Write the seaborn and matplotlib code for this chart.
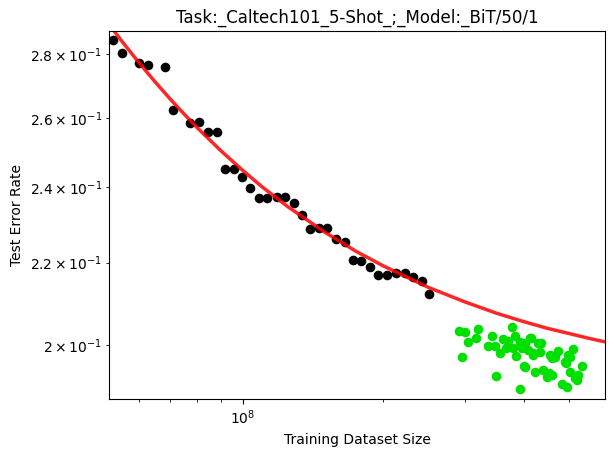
import numpy as np
import pandas as pd
import matplotlib
matplotlib.use("Agg")
import matplotlib.pyplot as plt
import seaborn as sns

# training set sizes are in units of 1e8
seen_size = [0.5273, 0.5523, 0.5996, 0.6278, 0.6829, 0.7103, 0.7712, 0.8074, 0.8416,
             0.8797, 0.9165, 0.9565, 0.998, 1.0382, 1.0852, 1.1289, 1.1824, 1.2320,
             1.2859, 1.3377, 1.3937, 1.4548, 1.5181, 1.5841, 1.6535, 1.7249, 1.7916,
             1.8730, 1.9514, 2.0397, 2.1294, 2.2233, 2.3196, 2.4179, 2.5057]
seen_err = [0.2846, 0.2805, 0.2773, 0.2764, 0.2760, 0.2624, 0.2587, 0.2588, 0.2559,
            0.2558, 0.2453, 0.2453, 0.2430, 0.2399, 0.2371, 0.2371, 0.2374, 0.2374,
            0.2357, 0.2324, 0.2288, 0.2290, 0.2290, 0.2261, 0.2252, 0.2207, 0.2205,
            0.2188, 0.2170, 0.2170, 0.2173, 0.2173, 0.2163, 0.2154, 0.2121]

held_size = [2.906, 2.992, 3.191, 3.037, 3.159, 2.949, 3.419, 3.352, 3.470, 3.556,
             3.487, 3.609, 3.699, 3.773, 3.829, 3.791, 3.663, 3.847, 3.924, 3.924,
             4.003, 3.963, 4.123, 4.289, 4.022, 4.082, 4.184, 4.331, 4.022, 4.226,
             4.395, 4.483, 4.595, 4.528, 4.663, 4.733, 4.595, 4.899, 5.097, 4.973,
             5.022, 5.224, 5.328, 4.827, 4.948, 5.198, 4.550, 5.022, 4.924, 4.352,
             4.143, 4.184, 5.147]
held_err = [0.2033, 0.2030, 0.2037, 0.2007, 0.2016, 0.1972, 0.2021, 0.1998, 0.1998, 0.1982,
            0.1930, 0.2014, 0.2009, 0.2042, 0.2021, 0.1993, 0.1993, 0.1975, 0.2007, 0.1901,
            0.1952, 0.1993, 0.2016, 0.2005, 0.2005, 0.1988, 0.1977, 0.1984, 0.1950, 0.1939,
            0.1943, 0.1927, 0.1932, 0.1936, 0.1972, 0.1986, 0.1970, 0.1961, 0.1991, 0.1977,
            0.1939, 0.1932, 0.1952, 0.1912, 0.1905, 0.1921, 0.1977, 0.1972, 0.1959, 0.2005,
            0.2016, 0.1982, 0.1925]

# fitted curve
fit_size = [0.518, 0.55, 0.6, 0.65, 0.7, 0.75, 0.8, 0.9, 1.0, 1.1, 1.25, 1.5, 1.75,
            2.0, 2.5, 3.0, 3.5, 4.0, 4.5, 5.0, 5.5, 6.0]
fit_err = [0.2897, 0.2844, 0.2772, 0.2711, 0.2658, 0.2612, 0.2571, 0.2503, 0.2448,
           0.2402, 0.2347, 0.2279, 0.2229, 0.2192, 0.2138, 0.2102, 0.2075, 0.2055,
           0.2039, 0.2027, 0.2016, 0.2007]

seen = pd.DataFrame({"size": np.array(seen_size) * 1e8, "err": seen_err})
held = pd.DataFrame({"size": np.array(held_size) * 1e8, "err": held_err})
fit = pd.DataFrame({"size": np.array(fit_size) * 1e8, "err": fit_err})

fig = plt.figure(figsize=(6.15, 4.57), dpi=100)
ax = fig.add_axes([0.1777, 0.1269, 0.8068, 0.8059])

sns.scatterplot(data=seen, x="size", y="err", color="black", s=48, linewidth=0, ax=ax)
sns.scatterplot(data=held, x="size", y="err", color="#00e000", s=48, linewidth=0, ax=ax)
sns.lineplot(data=fit, x="size", y="err", color="red", alpha=0.85, linewidth=2.5,
             sort=False, estimator=None, ax=ax)

ax.set_xscale("log")
ax.set_yscale("log")
ax.set_xlim(5.18e7, 5.99e8)
ax.set_ylim(0.1879, 0.2877)

ax.set_title("Task:_Caltech101_5-Shot_;_Model:_BiT/50/1")
ax.set_xlabel("Training Dataset Size")
ax.set_ylabel("Test Error Rate")

fig.savefig("out.png", dpi=100)
